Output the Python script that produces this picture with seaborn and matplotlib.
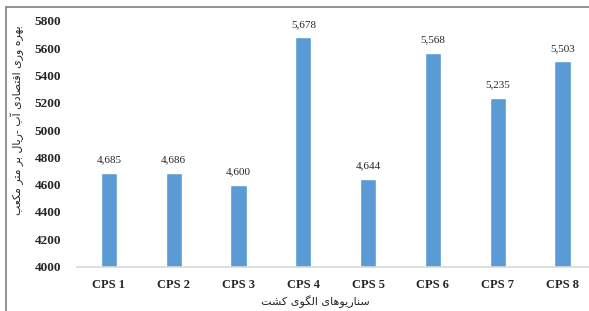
import matplotlib
matplotlib.use("Agg")
import matplotlib.pyplot as plt
import seaborn as sns
import pandas as pd
from matplotlib.lines import Line2D

# chart data
scenarios = ["CPS 1", "CPS 2", "CPS 3", "CPS 4", "CPS 5", "CPS 6", "CPS 7", "CPS 8"]
productivity = [4685, 4686, 4600, 5678, 4644, 5568, 5235, 5503]
y_ticks = [4000, 4200, 4400, 4600, 4800, 5000, 5200, 5400, 5600, 5800]

x_title = "سناریوهای الگوی کشت"
y_title = "بهره وری اقتصادی آب -ریال بر متر مکعب"

# simple arabic/persian shaping (matplotlib has no shaping or bidi)
# letter: (isolated, final, initial, medial); two forms => right-joining only
forms = {
    "ا": (0xFE8D, 0xFE8E), "آ": (0xFE81, 0xFE82), "د": (0xFEA9, 0xFEAA),
    "ر": (0xFEAD, 0xFEAE), "و": (0xFEED, 0xFEEE),
    "ب": (0xFE8F, 0xFE90, 0xFE91, 0xFE92), "ت": (0xFE95, 0xFE96, 0xFE97, 0xFE98),
    "س": (0xFEB1, 0xFEB2, 0xFEB3, 0xFEB4), "ش": (0xFEB5, 0xFEB6, 0xFEB7, 0xFEB8),
    "ص": (0xFEB9, 0xFEBA, 0xFEBB, 0xFEBC), "ع": (0xFEC9, 0xFECA, 0xFECB, 0xFECC),
    "ق": (0xFED5, 0xFED6, 0xFED7, 0xFED8), "ل": (0xFEDD, 0xFEDE, 0xFEDF, 0xFEE0),
    "م": (0xFEE1, 0xFEE2, 0xFEE3, 0xFEE4), "ن": (0xFEE5, 0xFEE6, 0xFEE7, 0xFEE8),
    "ه": (0xFEE9, 0xFEEA, 0xFEEB, 0xFEEC), "ی": (0xFBFC, 0xFBFD, 0xFBFE, 0xFBFF),
    "ک": (0xFB8E, 0xFB8F, 0xFB90, 0xFB91), "گ": (0xFB92, 0xFB93, 0xFB94, 0xFB95),
}


def shape(text):
    out = []
    for i, ch in enumerate(text):
        if ch not in forms:
            out.append(ch)
            continue
        prev = text[i - 1] if i > 0 else ""
        nxt = text[i + 1] if i + 1 < len(text) else ""
        joins_prev = prev in forms and len(forms[prev]) == 4
        joins_next = len(forms[ch]) == 4 and nxt in forms
        f = forms[ch]
        if joins_prev and joins_next:
            c = f[3]
        elif joins_prev:
            c = f[1]
        elif joins_next:
            c = f[2]
        else:
            c = f[0]
        out.append(chr(c))
    return "".join(out)[::-1]


df = pd.DataFrame({"scenario": scenarios, "value": productivity})

sns.set_style("white")
plt.rcParams["font.family"] = ["Liberation Serif", "DejaVu Sans"]

fig = plt.figure(figsize=(5.89, 3.11), dpi=100)
ax = fig.add_axes([0.130, 0.143, 0.880, 0.790])

sns.barplot(data=df, x="scenario", y="value", color="#5B9BD5", saturation=1,
            width=0.25, ax=ax)

ax.set_ylim(4000, 5800)
ax.set_xlim(-0.5, 7.5)
ax.set_yticks(y_ticks)
ax.set_yticklabels([str(v) for v in y_ticks], fontsize=9.5, fontweight="bold")
ax.set_xticks(range(len(scenarios)))
ax.set_xticklabels(scenarios, fontsize=9, fontweight="bold")
ax.tick_params(axis="y", length=0, pad=11)
ax.tick_params(axis="x", length=0, pad=9)
ax.set_xlabel("")
ax.set_ylabel("")

for side in ["top", "right", "left"]:
    ax.spines[side].set_visible(False)
ax.spines["bottom"].set_color("#D9D9D9")
ax.spines["bottom"].set_linewidth(1.2)

ax.bar_label(ax.containers[0], labels=[f"{v:,}" for v in productivity],
             padding=6, fontsize=8, color="#262626")

fig.text(315 / 589, 1 - 302 / 311, shape(x_title), ha="center", va="center",
         fontsize=8, family=["DejaVu Sans"], color="#262626")
fig.text(17 / 589, 1 - 120 / 311, shape(y_title), ha="center", va="center",
         rotation=90, fontsize=7.8, family=["DejaVu Sans"], color="#262626")

# frame around the picture
fig.add_artist(Line2D([6 / 589, 1], [1 - 7 / 311, 1 - 7 / 311],
                      transform=fig.transFigure, color="#7F7F7F", lw=1.2))
fig.add_artist(Line2D([6 / 589, 6 / 589], [0, 1 - 7 / 311],
                      transform=fig.transFigure, color="#7F7F7F", lw=1.2))

fig.savefig("out.png", dpi=100)
